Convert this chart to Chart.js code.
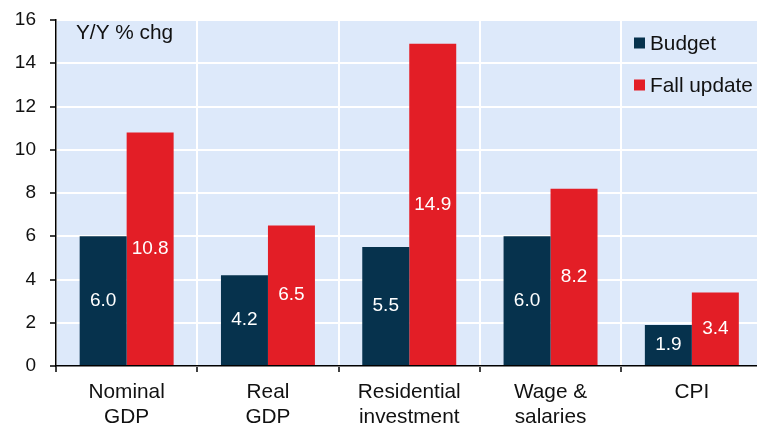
<!DOCTYPE html>
<html>
<head>
  <title>Budget vs Fall update</title>
  <script src="https://cdn.jsdelivr.net/npm/chart.js"></script>
  <style>
    html, body { margin: 0; padding: 0; overflow: hidden; background: #fff; }
    #wrap { width: 766px; height: 424px; }
  </style>
</head>
<body>
  <div id="wrap"><canvas id="myChart" width="766" height="424"></canvas></div>
  <script>
    // values
    const categories = [['Nominal', 'GDP'], ['Real', 'GDP'], ['Residential', 'investment'], ['Wage &', 'salaries'], 'CPI'];
    const budget = [6.0, 4.2, 5.5, 6.0, 1.9];
    const fallUpdate = [10.8, 6.5, 14.9, 8.2, 3.4];
    const yTicks = [0, 2, 4, 6, 8, 10, 12, 14, 16];

    const FONT = '"Liberation Sans", Arial, sans-serif';
    const NAVY = '#06324d';
    const RED = '#e31e26';

    // light blue plot background
    const plotBg = {
      id: 'plotBg',
      beforeDraw(chart) {
        const a = chart.chartArea, c = chart.ctx;
        c.save();
        c.fillStyle = '#dde9fa';
        c.fillRect(a.left, a.top, a.right - a.left, a.bottom - a.top);
        c.restore();
      }
    };

    // value labels in the middle of each bar, unit label and legend inside the plot
    const extras = {
      id: 'extras',
      afterDatasetsDraw(chart) {
        const c = chart.ctx;
        c.save();
        c.fillStyle = '#fff';
        c.font = '19px ' + FONT;
        c.textAlign = 'center';
        c.textBaseline = 'middle';
        chart.data.datasets.forEach((ds, i) => {
          chart.getDatasetMeta(i).data.forEach((bar, j) => {
            c.fillText(ds.data[j].toFixed(1), bar.x, (bar.y + bar.base) / 2);
          });
        });
        c.fillStyle = '#111';
        c.font = '20.8px ' + FONT;
        c.textAlign = 'left';
        c.fillText('Y/Y % chg', 76, 33);
        chart.data.datasets.forEach((ds, i) => {
          const y = 43 + i * 42;
          c.fillStyle = ds.backgroundColor;
          c.fillRect(634, y - 5.5, 11, 11);
          c.fillStyle = '#111';
          c.fillText(ds.label, 650, y + 1);
        });
        c.restore();
      }
    };

    const ctx = document.getElementById('myChart').getContext('2d');
    new Chart(ctx, {
      type: 'bar',
      data: {
        labels: categories,
        datasets: [
          { label: 'Budget', data: budget, backgroundColor: NAVY },
          { label: 'Fall update', data: fallUpdate, backgroundColor: RED }
        ]
      },
      options: {
        responsive: false,
        animation: false,
        layout: { padding: { top: 20, right: 3.5, left: 0, bottom: 0 } },
        categoryPercentage: 0.665,
        barPercentage: 1,
        plugins: { legend: { display: false }, tooltip: { enabled: false } },
        scales: {
          x: {
            grid: { color: '#fff', lineWidth: 2, tickColor: '#000', tickLength: 6, tickWidth: 1.5 },
            border: { color: '#000', width: 1.5 },
            ticks: { color: '#111', font: { family: FONT, size: 20.8, lineHeight: 1.2 }, padding: 8, maxRotation: 0 },
            afterFit(s) { s.height = 58; }
          },
          y: {
            min: 0, max: 16,
            afterBuildTicks(s) { s.ticks = yTicks.map(v => ({ value: v })); },
            grid: { color: '#fff', lineWidth: 2, tickColor: '#000', tickLength: 6, tickWidth: 1.5 },
            border: { color: '#000', width: 1.5 },
            ticks: { color: '#111', font: { family: FONT, size: 19 }, padding: 14 },
            afterFit(s) { s.width = 56; s.paddingTop = 0; s.paddingBottom = 0; }
          }
        }
      },
      plugins: [plotBg, extras]
    });
  </script>
</body>
</html>
